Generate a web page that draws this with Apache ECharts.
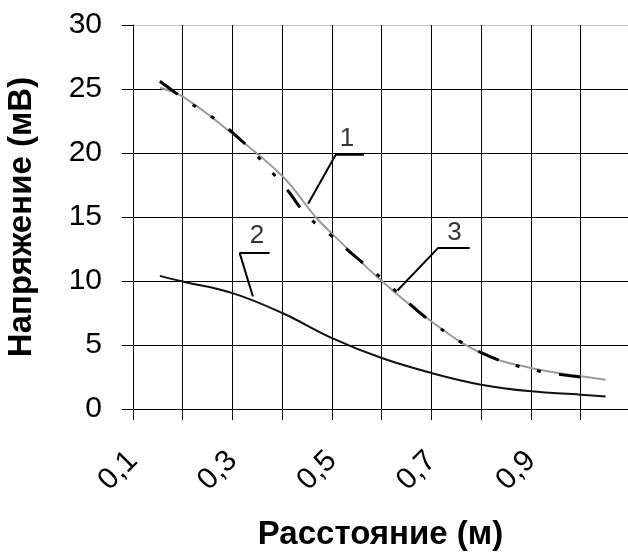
<!DOCTYPE html>
<html>
<head>
<meta charset="utf-8">
<script src="https://cdn.jsdelivr.net/npm/echarts@6/dist/echarts.min.js"></script>
<style>
  html, body { margin: 0; background: #fff; }
  #chart { width: 628px; height: 555px; }
</style>
</head>
<body>
<div id="chart"></div>
<script>
// curve 1 (black dash-dot)
const x1 = [0.154, 0.2, 0.3, 0.4, 0.45, 0.5, 0.55, 0.6, 0.7, 0.8, 0.9, 1.0]
const y1 = [25.6, 24.3, 21.6, 17.6, 15.1, 13.5, 11.8, 10.2, 6.8, 4.4, 3.1, 2.5]
// curve 2 (black solid)
const x2 = [0.154, 0.2, 0.3, 0.4, 0.5, 0.6, 0.7, 0.8, 0.9, 1.0, 1.05]
const y2 = [10.4, 9.96, 9.05, 7.5, 5.54, 3.98, 2.81, 1.9, 1.38, 1.12, 0.98]
// curve 3 (grey solid)
const x3 = [0.154, 0.2, 0.3, 0.4, 0.467, 0.5, 0.6, 0.7, 0.8, 0.9, 1.0, 1.05]
const y3 = [25.1, 24.4, 21.5, 18.2, 15.0, 13.7, 10.0, 6.84, 4.37, 3.2, 2.55, 2.29]

// leader lines for the curve numbers (data units)
const leaderNames = ['1', '2', '3']
const leaderX = [[0.452, 0.5075, 0.564], [0.341, 0.3145, 0.3748], [0.6315, 0.713, 0.7767]]
const leaderY = [[16.03, 19.86, 19.86], [8.79, 12.18, 12.18], [9.26, 12.57, 12.57]]
const labelX = [0.53, 0.349, 0.746]
const labelY = [21.1, 13.5, 13.8]

const FONT = "'Liberation Sans', Arial, sans-serif"
const zip = (xs, ys) => xs.map((x, i) => [x, ys[i]])

const chart = echarts.init(document.getElementById('chart'))

const leaderSeries = leaderX.map((xs, i) => ({
  type: 'line',
  data: zip(xs, leaderY[i]),
  symbol: 'none',
  silent: true,
  lineStyle: { color: '#000', width: 2 },
  z: 5,
}))

chart.setOption({
  animation: false,
  grid: { left: 133, top: 25, right: 0, bottom: 146, containLabel: false, outerBoundsMode: 'none' },
  xAxis: {
    type: 'value',
    min: 0.1, max: 1.095, interval: 0.1,
    name: 'Расстояние (м)',
    nameLocation: 'middle',
    nameGap: 109,
    nameTextStyle: { fontFamily: FONT, fontSize: 33, fontWeight: 'bold', color: '#000' },
    axisLine: { show: true, lineStyle: { color: '#000', width: 1 } },
    axisTick: { show: true, length: 11, lineStyle: { color: '#000' } },
    axisLabel: {
      rotate: 45, margin: 47, fontSize: 30, fontFamily: FONT, color: '#000',
      showMaxLabel: false,
      formatter: v => {
        const k = Math.round(v * 10)
        if (Math.abs(v * 10 - k) > 1e-6 || k % 2 !== 1) return ''
        return (k / 10).toFixed(1).replace('.', ',')
      },
    },
    splitLine: { show: true, showMaxLine: false, lineStyle: { color: '#000', width: 1 } },
  },
  yAxis: {
    type: 'value',
    min: 0, max: 30, interval: 5,
    name: 'Напряжение (мВ)',
    nameLocation: 'middle',
    nameGap: 95,
    nameTextStyle: { fontFamily: FONT, fontSize: 33, fontWeight: 'bold', color: '#000' },
    axisLine: { show: true, lineStyle: { color: '#000', width: 1 } },
    axisTick: { show: true, length: 11, lineStyle: { color: '#000' } },
    axisLabel: { margin: 31, fontSize: 30, fontFamily: FONT, color: '#000' },
    splitLine: {
      show: true,
      lineStyle: { color: ['#000', '#000', '#000', '#000', '#000', '#000', '#c0c0c0'], width: 1 },
    },
  },
  series: [
    {
      name: '3', type: 'line', data: zip(x3, y3), smooth: 0.4,
      symbol: 'none', lineStyle: { color: '#9a9a9a', width: 2 }, z: 3,
    },
    {
      name: '1', type: 'line', data: zip(x1, y1), smooth: 0.4,
      symbol: 'none', lineStyle: { color: '#000', width: 3, type: [22, 18, 4, 18, 4, 18] }, z: 4,
    },
    {
      name: '2', type: 'line', data: zip(x2, y2), smooth: 0.4,
      symbol: 'none', lineStyle: { color: '#111', width: 2 }, z: 3,
    },
    ...leaderSeries,
    {
      type: 'scatter',
      data: labelX.map((x, i) => ({ value: [x, labelY[i]], name: leaderNames[i] })),
      symbolSize: 0,
      silent: true,
      label: {
        show: true, position: 'inside', formatter: p => p.name,
        fontFamily: FONT, fontSize: 26, color: '#000',
      },
      z: 6,
    },
  ],
})
</script>
</body>
</html>
